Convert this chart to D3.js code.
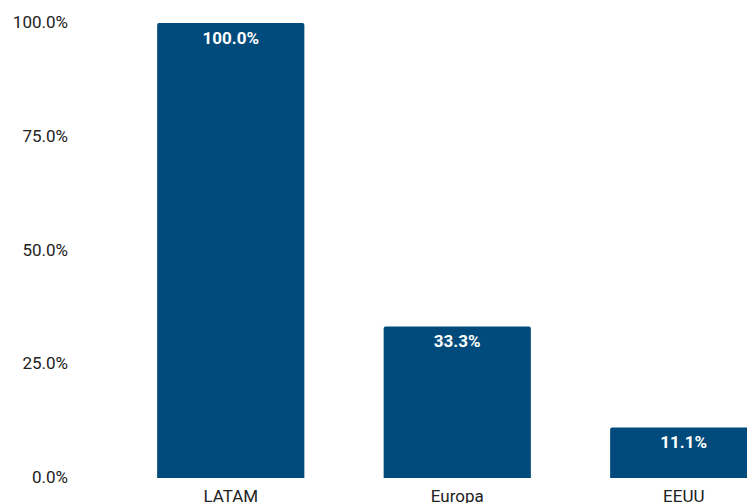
<!DOCTYPE html>
<html>
<head>
<meta charset="utf-8">
<script src="https://cdn.jsdelivr.net/npm/d3@7"></script>
<style>
html,body{margin:0;padding:0;background:#fff;overflow:hidden;}
svg{display:block;font-family:Roboto,"Noto Sans",sans-serif;}
</style>
</head>
<body>
<svg id="chart" width="747" height="503"></svg>
<script>
const categories = ["LATAM", "Europa", "EEUU"];
const values = [100.0, 33.3, 11.1];
const tickValues = [0, 25, 50, 75, 100];

const svg = d3.select("#chart");
const x = d3.scaleBand().domain(categories).range([117.5, 797]).paddingInner(0.35).paddingOuter(0.175);
const y = d3.scaleLinear().domain([0, 100]).range([478, 23]);
const fmt = v => v.toFixed(1) + "%";

// y axis labels
const yAxis = d3.axisLeft(y).tickValues(tickValues).tickFormat(fmt).tickSize(0).tickPadding(0);
const gy = svg.append("g").attr("transform", "translate(68,0)").call(yAxis);
gy.select(".domain").remove();
gy.selectAll("text").attr("font-size", 17).attr("fill", "#222").attr("font-family", "Roboto, sans-serif").attr("dy", "0.27em");

// bars with slightly rounded top corners
const r = 2;
svg.append("g").selectAll("path").data(values).join("path")
  .attr("fill", "#004b7c")
  .attr("d", (d, i) => {
    const x0 = x(categories[i]), w = x.bandwidth(), y0 = y(d), y1 = y(0);
    return `M${x0},${y1}V${y0 + r}Q${x0},${y0} ${x0 + r},${y0}H${x0 + w - r}Q${x0 + w},${y0} ${x0 + w},${y0 + r}V${y1}Z`;
  });

// bar labels
svg.append("g").selectAll("text").data(values).join("text")
  .attr("x", (d, i) => x(categories[i]) + x.bandwidth() / 2)
  .attr("y", d => y(d) + 20.5)
  .attr("text-anchor", "middle")
  .attr("fill", "#fff")
  .attr("font-weight", "bold")
  .attr("font-size", 17)
  .text(fmt);

// x axis labels
const xAxis = d3.axisBottom(x).tickSize(0).tickPadding(0);
const gx = svg.append("g").attr("transform", "translate(0,489.5)").call(xAxis);
gx.select(".domain").remove();
gx.selectAll("text").attr("font-size", 17).attr("fill", "#222").attr("font-family", "Roboto, sans-serif").attr("dy", "0.75em");
</script>
</body>
</html>
